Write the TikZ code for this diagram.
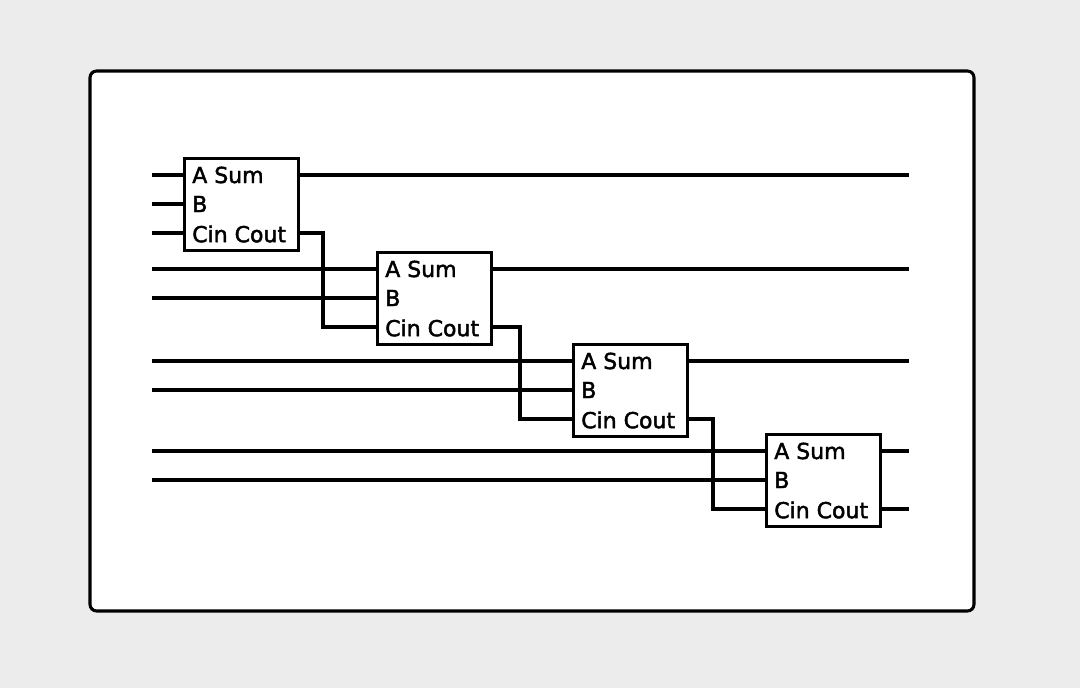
\documentclass[tikz,border=0pt]{standalone}
\usepackage{fontspec}
\setmainfont{DejaVu Sans}
\newfontfamily\lblfont{DejaVu Sans}[FakeBold=2]
\begin{document}
\begin{tikzpicture}[x=0.75pt,y=-0.75pt,
  w/.style={line width=2.3pt},
  lbl/.style={anchor=west,inner sep=0pt,font=\fontsize{16.5}{16}\lblfont}]
\fill[gray!15] (0,0) rectangle (1080,688);
\useasboundingbox (0,0) rectangle (1080,688);
\draw[w,fill=white,rounded corners=5pt] (90,71) rectangle (974,611);
\foreach \n/\x/\y in {1/183/157,2/376/251,3/572/343,4/765/433}{
  \node[w,draw,fill=white,minimum width=114*0.75pt,minimum height=92*0.75pt,anchor=north west,inner sep=0pt] (b\n) at (\x,\y) {};
  \coordinate (a\n) at (\x,\y+18);
  \coordinate (bb\n) at (\x,\y+47);
  \coordinate (c\n) at (\x,\y+76);
  \coordinate (s\n) at (\x+116,\y+18);
  \coordinate (co\n) at (\x+116,\y+76);
  \node[lbl] at (\x+9,\y+18) {A Sum};
  \node[lbl] at (\x+9,\y+47) {B};
  \node[lbl] at (\x+9,\y+77) {Cin Cout};
}
\draw[w] (152,175) -- (a1);
\draw[w] (152,204) -- (bb1);
\draw[w] (152,233) -- (c1);
\foreach \n in {2,3,4}{
  \draw[w] (a\n) -- (152,0 |- a\n);
  \draw[w] (bb\n) -- (152,0 |- bb\n);
}
\foreach \n in {1,2,3,4}{ \draw[w] (s\n) -- (909,0 |- s\n); }
\draw[w] (co4) -- (909,0 |- co4);
\draw[w] (co1) -- ++(24,0) |- (c2);
\draw[w] (co2) -- ++(28,0) |- (c3);
\draw[w] (co3) -- ++(25,0) |- (c4);
\end{tikzpicture}
\end{document}
